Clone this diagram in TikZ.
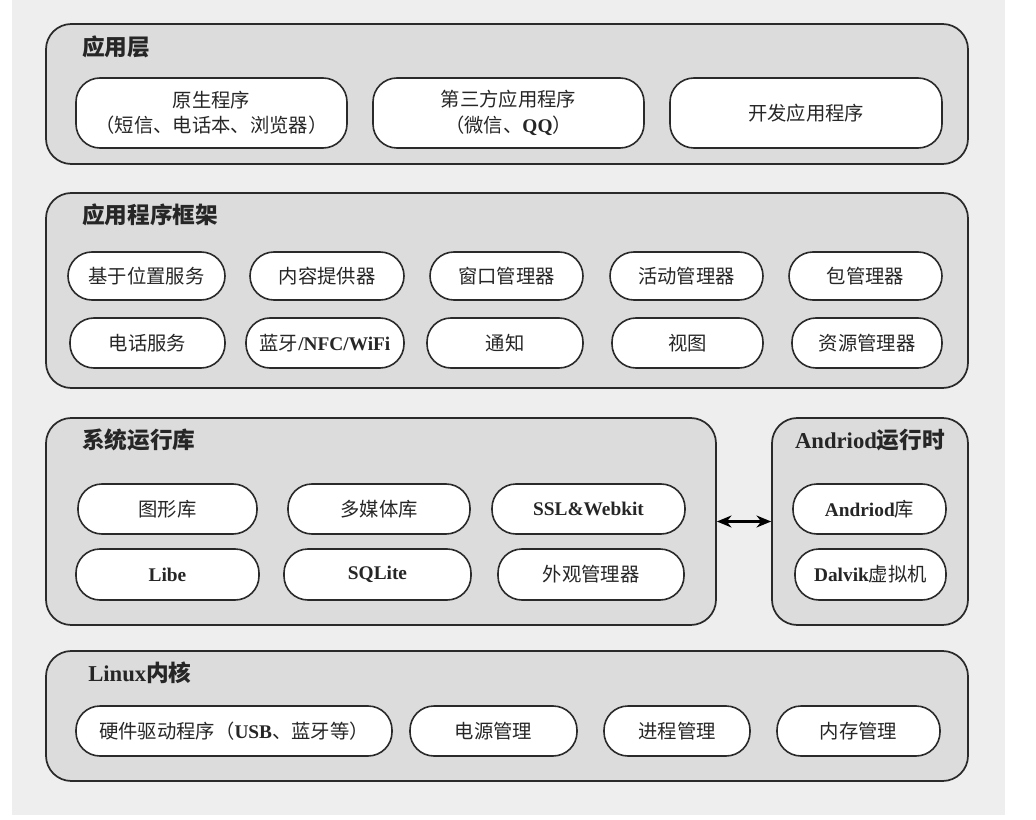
\documentclass[tikz,border=0pt]{standalone}
\usepackage{fontspec}
\setmainfont{Liberation Serif}
\newfontfamily\cjk{Noto Sans CJK SC}
\usetikzlibrary{arrows.meta}
\definecolor{bgcol}{HTML}{EEEEEE}
\definecolor{layerfill}{HTML}{DCDCDC}
\definecolor{linecol}{HTML}{2A2A2A}
\tikzset{
  layerbox/.style={draw=linecol, line width=1.3pt, fill=layerfill, rounded corners=19pt, inner sep=0pt},
  pill/.style={draw=linecol, line width=1.2pt, fill=white, rounded corners=18pt, inner sep=0pt,
    align=center, font=\fontsize{14.5}{19}\selectfont, text=black!85},
  layertitle/.style={anchor=west, inner sep=0pt, font=\fontsize{17}{20}\selectfont\bfseries, text=black!85},
  link/.style={{Stealth[length=11pt,width=9pt]}-{Stealth[length=11pt,width=9pt]}, line width=1.6pt, draw=black}
}
\newcommand\pillbox[6]{\node[pill, minimum width={(#4-#2)*0.75pt}, minimum height={(#5-#3)*0.75pt}] (#1) at ({(#2+#4)/2},{(#3+#5)/2}) {#6};}
\newcommand\layerbox[5]{\node[layerbox, minimum width={(#4-#2)*0.75pt}, minimum height={(#5-#3)*0.75pt}] (#1) at ({(#2+#4)/2},{(#3+#5)/2}) {};}
\begin{document}
\begin{tikzpicture}[x=0.75pt, y=-0.75pt]
\useasboundingbox (0,0) rectangle (1036,820);
\fill[white] (0,0) rectangle (1036,820);
\fill[bgcol] (12,0) rectangle (1005,815);

% Layer 1
\layerbox{app}{46}{24}{968}{164}
\node[layertitle] (appt) at (82,47) {\cjk 应用层};
\pillbox{native}{76}{78}{347}{148}{\cjk 原生程序\\\cjk （短信、电话本、浏览器）}
\pillbox{third}{373}{78}{644}{148}{\cjk 第三方应用程序\\{\cjk （微信、}\textbf{QQ}{\cjk ）}}
\pillbox{dev}{670}{78}{942}{148}{\cjk 开发应用程序}

% Layer 2
\layerbox{fw}{46}{193}{968}{388}
\node[layertitle] (fwt) at (82,215) {\cjk 应用程序框架};
\pillbox{loc}{68}{252}{225}{300}{\cjk 基于位置服务}
\pillbox{cp}{250}{252}{404}{300}{\cjk 内容提供器}
\pillbox{wm}{430}{252}{583}{300}{\cjk 窗口管理器}
\pillbox{am}{610}{252}{763}{300}{\cjk 活动管理器}
\pillbox{pm}{789}{252}{942}{300}{\cjk 包管理器}
\pillbox{tel}{70}{318}{225}{368}{\cjk 电话服务}
\pillbox{bt}{246}{318}{404}{368}{{\cjk 蓝牙}\textbf{/NFC/WiFi}}
\pillbox{ntf}{427}{318}{583}{368}{\cjk 通知}
\pillbox{view}{612}{318}{763}{368}{\cjk 视图}
\pillbox{res}{792}{318}{942}{368}{\cjk 资源管理器}

% Layer 3
\layerbox{sys}{46}{418}{716}{625}
\node[layertitle] (syst) at (82,440) {\cjk 系统运行库};
\pillbox{gfx}{78}{484}{257}{534}{\cjk 图形库}
\pillbox{media}{288}{484}{470}{534}{\cjk 多媒体库}
\pillbox{ssl}{492}{484}{685}{534}{\textbf{SSL\&Webkit}}
\pillbox{libc}{76}{549}{259}{600}{\textbf{Libe}}
\pillbox{sql}{284}{549}{471}{600}{\textbf{SQLite}}
\pillbox{skin}{498}{549}{684}{600}{\cjk 外观管理器}

\layerbox{rt}{772}{418}{968}{625}
\node[anchor=center, inner sep=0pt, font=\fontsize{17}{20}\selectfont\bfseries, text=black!85] (rtt) at (870,440) {Andriod{\cjk 运行时}};
\pillbox{alib}{793}{484}{946}{534}{\textbf{Andriod}{\cjk 库}}
\pillbox{dvm}{795}{549}{946}{600}{\textbf{Dalvik}{\cjk 虚拟机}}

\draw[link] (sys.east) -- (rt.west);

% Layer 4
\layerbox{kern}{46}{651}{968}{781}
\node[layertitle] (kernt) at (88,673) {Linux{\cjk 内核}};
\pillbox{drv}{76}{706}{392}{756}{{\cjk 硬件驱动程序（}\textbf{USB}{\cjk 、蓝牙等）}}
\pillbox{pwr}{410}{706}{577}{756}{\cjk 电源管理}
\pillbox{proc}{604}{706}{750}{756}{\cjk 进程管理}
\pillbox{mem}{777}{706}{940}{756}{\cjk 内存管理}
\end{tikzpicture}
\end{document}
